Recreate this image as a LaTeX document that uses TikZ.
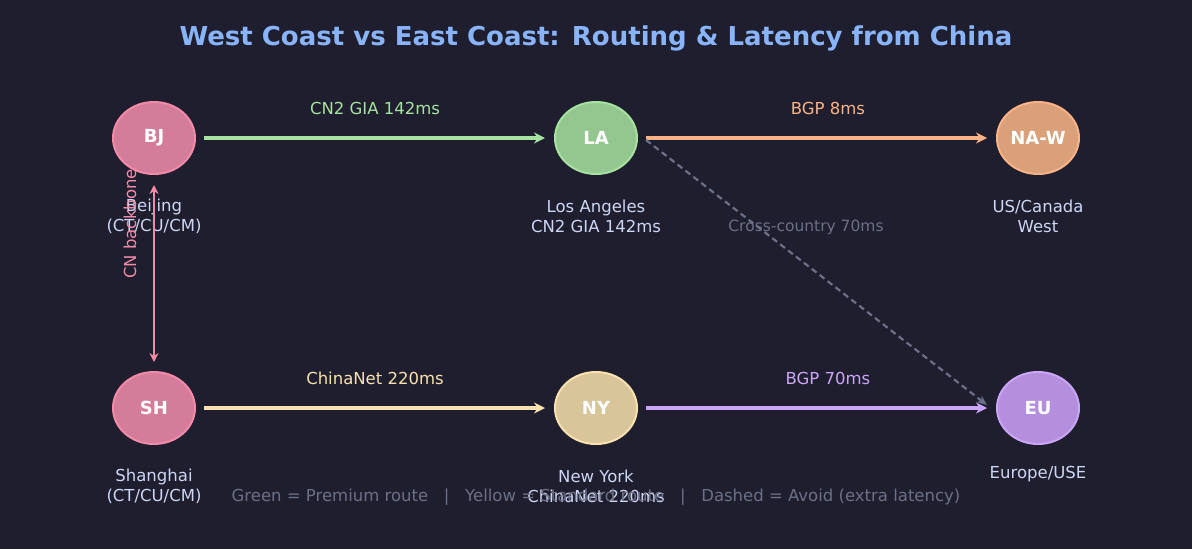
\documentclass[tikz,border=0pt]{standalone}
\usepackage{fontspec}
\setmainfont{DejaVu Sans}
\usetikzlibrary{shapes.geometric,arrows.meta}
\definecolor{bg}{HTML}{1E1E2E}
\definecolor{txt}{HTML}{CDD6F4}
\definecolor{gr}{HTML}{6C7086}
\definecolor{pinkb}{HTML}{F38BA8}\definecolor{pinkf}{HTML}{D47D9B}
\definecolor{grnb}{HTML}{A6E3A1}\definecolor{grnf}{HTML}{94C78F}
\definecolor{orb}{HTML}{FAB387}\definecolor{orf}{HTML}{D9A07A}
\definecolor{yelb}{HTML}{F9E2AF}\definecolor{yelf}{HTML}{D8C59A}
\definecolor{purb}{HTML}{CBA6F7}\definecolor{purf}{HTML}{B38FDD}
\definecolor{ttl}{HTML}{89B4FA}
\begin{document}
\begin{tikzpicture}[x=1pt,y=-1pt,
 n/.style={ellipse,minimum width=82pt,minimum height=72pt,line width=2pt,text=white,font=\bfseries\fontsize{18}{20}\selectfont,inner sep=0pt},
 sub/.style={text=txt,font=\fontsize{16.5}{20}\selectfont,align=center},
 lab/.style={font=\fontsize{16.5}{18}\selectfont},
 ar/.style={line width=4pt,-{Stealth[length=11pt,width=11pt]}}]
\fill[bg] (0,0) rectangle (1192,549);
\useasboundingbox (0,0) rectangle (1192,549);
\node[text=ttl,font=\bfseries\fontsize{26}{30}\selectfont] (title) at (596,38) {West Coast vs East Coast: Routing \& Latency from China};
\node[n,fill=pinkf,draw=pinkb] (bj) at (154,138) {BJ};
\node[n,fill=grnf,draw=grnb] (la) at (596,138) {LA};
\node[n,fill=orf,draw=orb] (naw) at (1038,138) {NA-W};
\node[n,fill=pinkf,draw=pinkb] (sh) at (154,408) {SH};
\node[n,fill=yelf,draw=yelb] (ny) at (596,408) {NY};
\node[n,fill=purf,draw=purb] (eu) at (1038,408) {EU};
\node[sub] (bjs) at (154,216) {Beijing\\(CT/CU/CM)};
\node[sub] (las) at (596,216) {Los Angeles\\CN2 GIA 142ms};
\node[sub] (naws) at (1038,216) {US/Canada\\West};
\node[sub] (shs) at (154,486) {Shanghai\\(CT/CU/CM)};
\node[sub] (nys) at (596,486) {New York\\ChinaNet 220ms};
\node[sub] (eus) at (1038,474) {Europe/USE};
\coordinate (a1) at (204,138); \coordinate (b1) at (545,138);
\coordinate (a2) at (646,138); \coordinate (b2) at (987,138);
\coordinate (a3) at (204,408); \coordinate (b3) at (545,408);
\coordinate (a4) at (646,408); \coordinate (b4) at (987,408);
\draw[ar,grnb] (a1) -- (b1);
\node[lab,text=grnb] (l1) at (375,108) {CN2 GIA 142ms};
\draw[ar,orb] (a2) -- (b2);
\node[lab,text=orb] (l2) at (828,108) {BGP 8ms};
\draw[ar,yelb] (a3) -- (b3);
\node[lab,text=yelb] (l3) at (375,378) {ChinaNet 220ms};
\draw[ar,purb] (a4) -- (b4);
\node[lab,text=purb] (l4) at (828,378) {BGP 70ms};
\coordinate (dA) at (646,140); \coordinate (dB) at (987,405);
\draw[gr,line width=2.2pt,dash pattern=on 6pt off 4pt,-{Stealth[length=10pt,width=8pt]}] (dA) -- (dB);
\node[text=gr,font=\fontsize{15.5}{17}\selectfont] (cc) at (806,227) {Cross-country 70ms};
\coordinate (v1) at (154,185); \coordinate (v2) at (154,362);
\draw[pinkb,line width=2.2pt,{Stealth[length=9pt,width=9pt]}-{Stealth[length=9pt,width=9pt]}] (v1) -- (v2);
\node[lab,text=pinkb,rotate=90] (cn) at (130,224) {CN backbone};
\node[text=gr,font=\fontsize{16.5}{18}\selectfont] (leg) at (596,497) {Green = Premium route \ \ |\ \ \ Yellow = Standard route \ \ |\ \ \ Dashed = Avoid (extra latency)};
\end{tikzpicture}
\end{document}
